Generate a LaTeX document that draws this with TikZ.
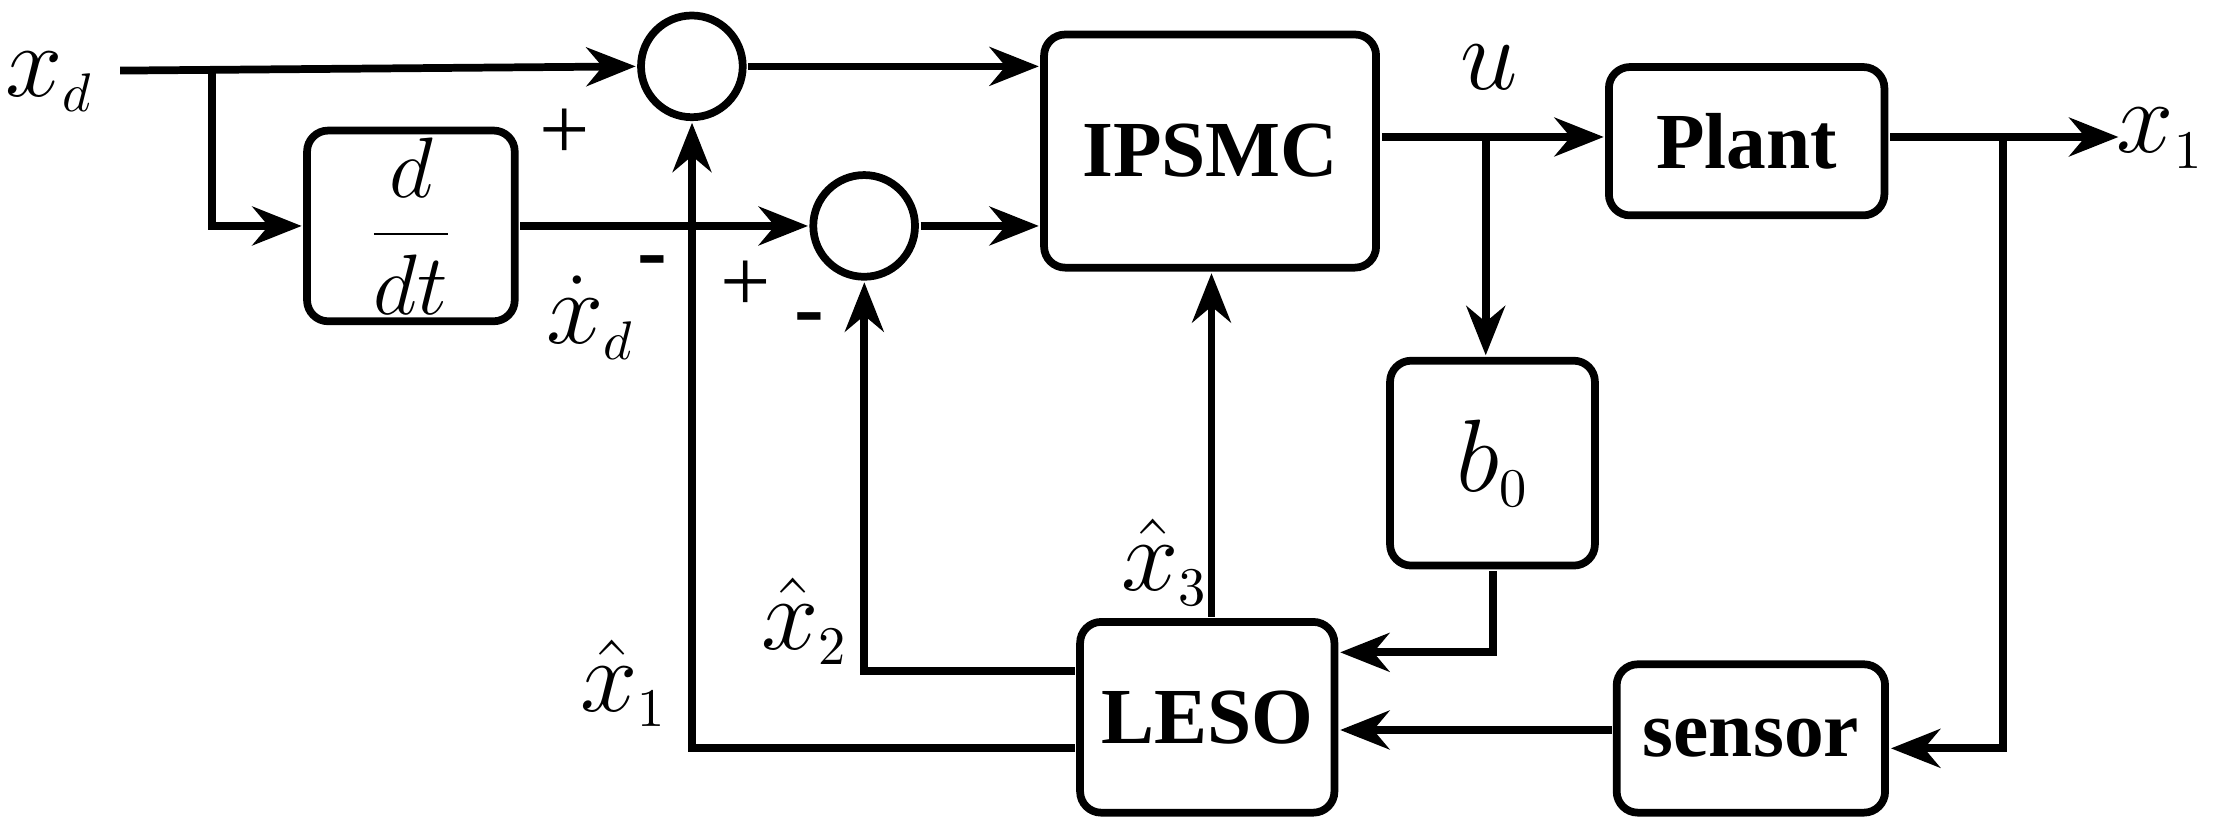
\documentclass[tikz,border=0pt]{standalone}
\usepackage{fontspec}
\setmainfont{Liberation Serif}
\usetikzlibrary{arrows.meta}
\begin{document}
\begin{tikzpicture}[x=0.01cm,y=-0.01cm,scale=1.412,transform shape,
  line width=2.2pt,
  blk/.style={draw,rounded corners=6pt,inner sep=0pt,font=\fontsize{16}{19}\selectfont\bfseries},
  sum/.style={draw,circle,minimum size=0.72cm,inner sep=0pt},
  arr/.style={-{Stealth[length=14pt,width=11pt]}},
  lab/.style={font=\fontsize{21}{25}\selectfont},
  sgn/.style={font=\fontsize{18}{22}\selectfont}]
\useasboundingbox (0,0) rectangle (1568,590.6);
\node[blk,minimum width=1.47cm,minimum height=1.35cm,font=\fontsize{18}{22}\selectfont] (dd) at (291,160) {$\displaystyle\frac{d}{dt}$};
\node[sum] (s1) at (490,47) {};
\node[sum] (s2) at (612,160) {};
\node[blk,minimum width=2.35cm,minimum height=1.65cm] (ip) at (857,107) {IPSMC};
\node[blk,minimum width=1.95cm,minimum height=1.05cm] (pl) at (1237,100) {Plant};
\node[blk,minimum width=1.45cm,minimum height=1.45cm,font=\fontsize{22}{26}\selectfont] (b0) at (1057,328) {$b_{\scriptscriptstyle 0}$};
\node[blk,minimum width=1.8cm,minimum height=1.35cm] (le) at (855,508) {LESO};
\node[blk,minimum width=1.9cm,minimum height=1.05cm] (se) at (1240,523) {sensor};
\coordinate (xd) at (85,50);
\coordinate (j1) at (150,50);
\coordinate (ju) at (1052,97);
\coordinate (jx) at (1418,97);
\coordinate (xo) at (1500,97);
\node[lab] at (35,58) {$x_{\scriptscriptstyle d}$};
\node[lab] at (1530,98) {$x_{\scriptscriptstyle 1}$};
\node[lab] at (1055,48) {$u$};
\node[lab] at (418,225) {$\dot{x}_{\scriptscriptstyle d}$};
\node[lab] at (825,398) {$\hat{x}_{\scriptscriptstyle 3}$};
\node[lab] at (570,440) {$\hat{x}_{\scriptscriptstyle 2}$};
\node[lab] at (442,484) {$\hat{x}_{\scriptscriptstyle 1}$};
\node[sgn] at (400,95) {+};
\node[sgn] at (462,190) {\textbf{-}};
\node[sgn] at (528,203) {+};
\node[sgn] at (573,230) {\textbf{-}};
\draw[arr] (xd) -- (s1.west);
\draw[arr] (j1) |- (dd.west);
\draw[arr] (dd.east) -- (s2.west);
\draw[arr] (s1.east) -- (s1.east -| ip.west);
\draw[arr] (s2.east) -- (s2.east -| ip.west);
\draw[arr] (ip.east |- ju) -- (pl.west |- ju);
\draw[arr] (ju) -- (b0.north -| ju);
\draw[arr] (pl.east |- jx) -- (xo);
\draw[arr] (jx) |- (se.east |- 0,530);
\draw[arr] (se.west |- 0,517) -- (le.east |- 0,517);
\draw[arr] (b0.south) |- (le.east |- 0,462);
\draw[arr] (le.north -| 858,0) -- (ip.south -| 858,0);
\draw[arr] (le.west |- 0,475) -| (s2.south);
\draw[arr] (le.west |- 0,530) -| (s1.south);
\end{tikzpicture}
\end{document}
